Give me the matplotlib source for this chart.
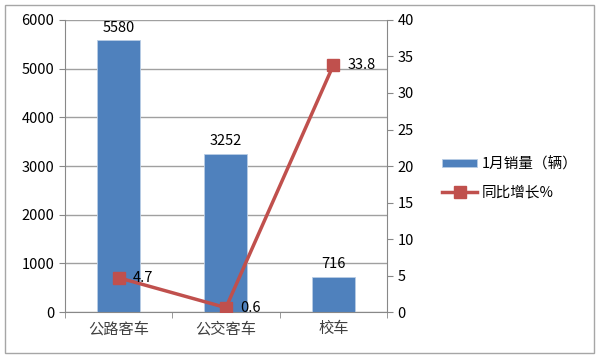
import matplotlib
matplotlib.use('Agg')
import matplotlib.pyplot as plt
from matplotlib.patches import Rectangle

plt.rcParams['font.family'] = ['Noto Sans CJK SC', 'DejaVu Sans']

cats = ['公路客车', '公交客车', '校车']
sales = [5580, 3252, 716]
growth = [4.7, 0.6, 33.8]

fig = plt.figure(figsize=(6, 3.57), dpi=100)
fig.patches.append(Rectangle((0.008, 0.012), 0.982, 0.975, transform=fig.transFigure,
                             fill=False, edgecolor='#a6a6a6', linewidth=1))
ax = fig.add_axes([0.108, 0.126, 0.537, 0.818])
x = list(range(len(cats)))
bars = ax.bar(x, sales, width=0.4, color='#4f81bd', edgecolor='#b9cde5', linewidth=0.6,
              label='1月销量（辆）', zorder=2)
for xi, v in zip(x, sales):
    ax.text(xi, v + 120, str(v), ha='center', va='bottom', fontsize=10.5)
ax.set_xlim(-0.5, 2.5)
ax.set_ylim(0, 6000)
ax.set_yticks(range(0, 6001, 1000))
ax.grid(axis='y', color='#a0a0a0', linewidth=1, zorder=0)
ax.set_xticks(x)
ax.set_xticklabels(cats, fontsize=11, color='#404040')
ax.set_xticks([-0.5, 0.5, 1.5, 2.5], minor=True)
ax.tick_params(axis='x', which='major', length=0, pad=6)
ax.tick_params(axis='x', which='minor', length=4, color='#888888')
ax.tick_params(axis='y', length=4, color='#888888', labelsize=10.5)
for s in ['top', 'right']:
    ax.spines[s].set_visible(False)
ax.spines['left'].set_color('#888888')
ax.spines['bottom'].set_color('#888888')

ax2 = ax.twinx()
ln, = ax2.plot(x, growth, color='#c0504d', linewidth=2.5, marker='s', markersize=9,
               label='同比增长%', zorder=3)
for xi, v in zip(x, growth):
    ax2.text(xi + 0.13, v, str(v), ha='left', va='center', fontsize=10.5)
ax2.set_ylim(0, 40)
ax2.set_yticks(range(0, 41, 5))
ax2.tick_params(axis='y', length=4, color='#888888', labelsize=10.5)
for s in ['top', 'left', 'bottom']:
    ax2.spines[s].set_visible(False)
ax2.spines['right'].set_color('#888888')

fig.legend([bars, ln], ['1月销量（辆）', '同比增长%'], loc='center left',
           bbox_to_anchor=(0.715, 0.5), frameon=False, fontsize=10.5,
           handlelength=2.4, handleheight=0.5, labelspacing=1.0, handletextpad=0.3)

fig.savefig('out.png', dpi=100)
